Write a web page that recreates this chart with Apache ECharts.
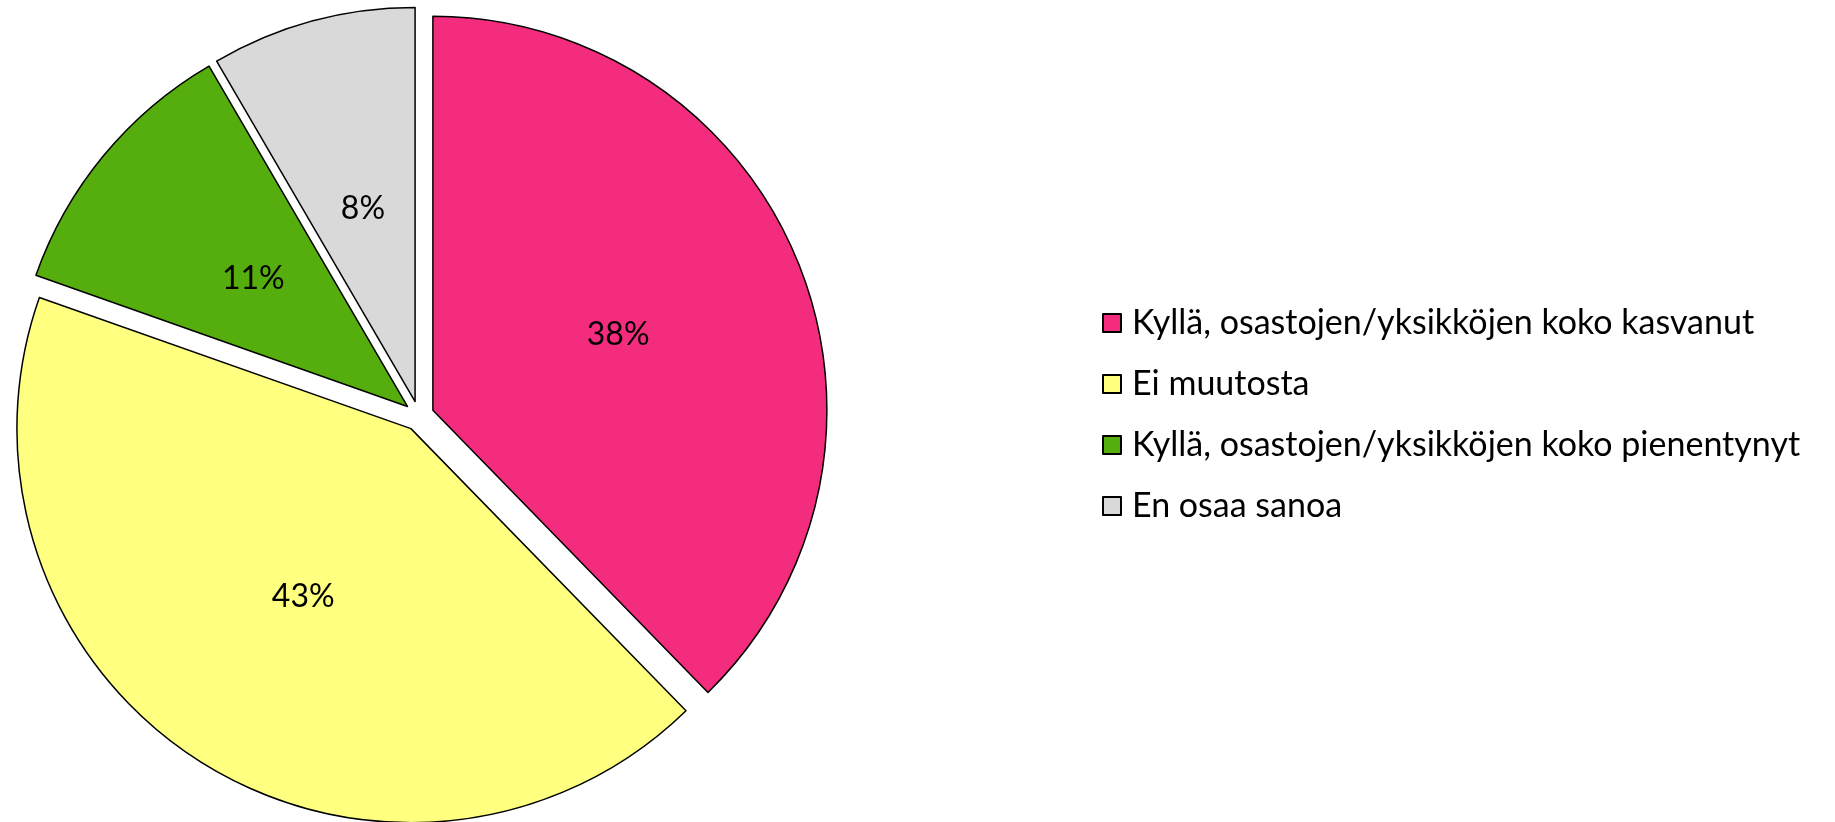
<!DOCTYPE html>
<html>
<head>
<meta charset="utf-8">
<script src="https://cdn.jsdelivr.net/npm/echarts@6/dist/echarts.min.js"></script>
<style>
  html, body { margin: 0; padding: 0; background: #fff; }
  #chart { width: 1835px; height: 822px; }
</style>
</head>
<body>
<div id="chart"></div>
<script>
const categories = [
    'Kyllä, osastojen/yksikköjen koko kasvanut',
    'Ei muutosta',
    'Kyllä, osastojen/yksikköjen koko pienentynyt',
    'En osaa sanoa'
];
// shares; labels show them rounded
const values = [37.7, 42.7, 11.2, 8.4];
const colors = ['#F42C7E', '#FFFF80', '#56AE0E', '#D9D9D9'];

const chart = echarts.init(document.getElementById('chart'));

chart.setOption({
    animation: false,
    legend: {
        orient: 'vertical',
        left: 1097,
        top: 301,
        itemWidth: 18,
        itemHeight: 18,
        itemGap: 27,
        icon: 'rect',
        textStyle: { fontFamily: 'Lato', fontSize: 34, color: '#000', padding: [0, 0, 0, 6] },
        data: categories
    },
    series: [{
        type: 'pie',
        center: [419, 416],
        radius: 394,
        startAngle: 90,
        selectedMode: 'multiple',
        selectedOffset: 15,
        emphasis: { disabled: true },
        itemStyle: { borderColor: '#000', borderWidth: 1.5 },
        label: {
            position: 'inside',
            formatter: p => Math.round(p.value) + '%',
            fontFamily: 'Lato',
            fontSize: 32,
            color: '#000'
        },
        labelLine: { show: false },
        data: categories.map((name, i) => ({
            name: name,
            value: values[i],
            selected: true,
            itemStyle: { color: colors[i] }
        }))
    }]
});
</script>
</body>
</html>
